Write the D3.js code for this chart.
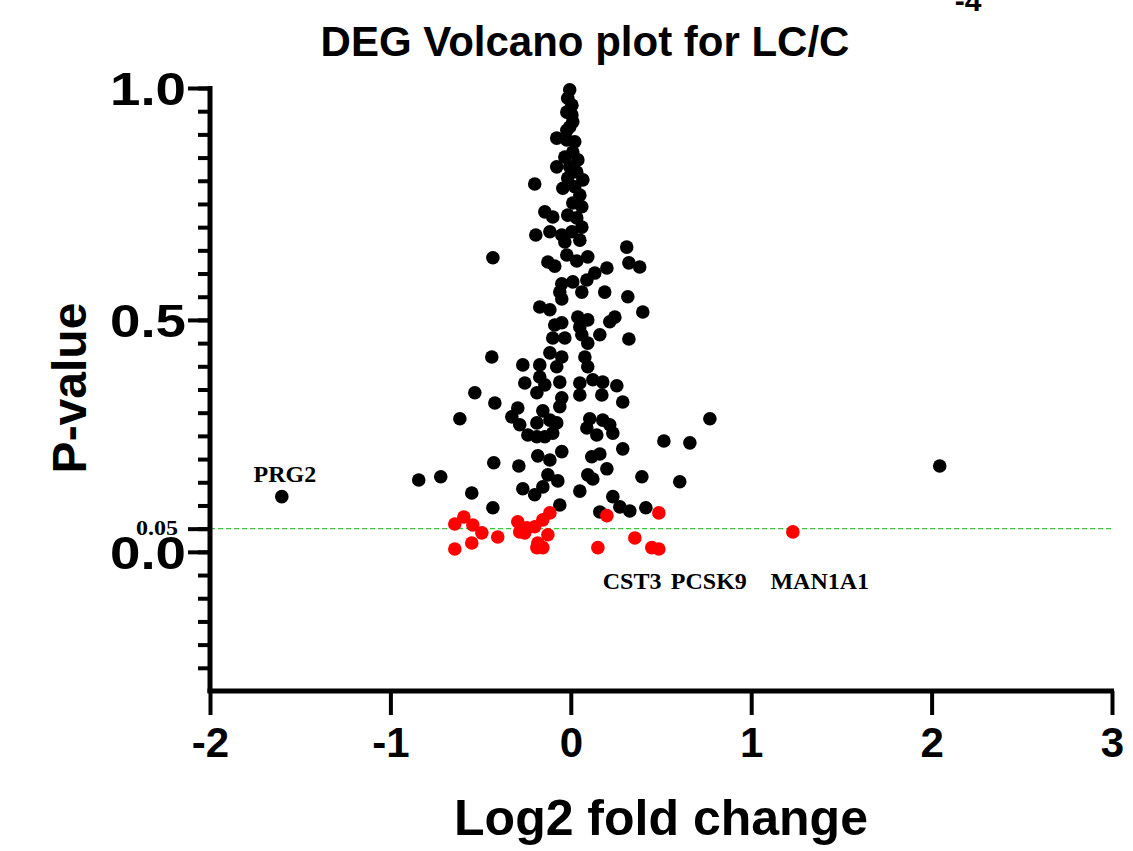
<!DOCTYPE html>
<html>
<head>
<meta charset="utf-8">
<script src="https://cdn.jsdelivr.net/npm/d3@7"></script>
<style>
  body { margin: 0; background: #fff; }
  svg { display: block; }
</style>
</head>
<body>
<svg id="chart" width="1133" height="851"></svg>
<script>
// black = not significant, red = p < 0.05 (log2FC, p)
const nsPoints = [
  [-0.006,0.996],[-0.017,0.978],[0.006,0.963],[-0.022,0.948],[0.006,0.942],[0.011,0.927],
  [-0.006,0.916],[-0.022,0.909],[-0.078,0.892],[0.022,0.884],[-0.022,0.888],[-0.033,0.851],
  [0.011,0.862],[0.039,0.845],[-0.078,0.830],[-0.006,0.830],[0.033,0.819],[0.067,0.802],
  [-0.017,0.806],[-0.044,0.784],[-0.200,0.793],[0.022,0.787],[0.050,0.769],[0.011,0.752],
  [0.061,0.744],[-0.144,0.733],[-0.100,0.722],[-0.017,0.726],[0.033,0.720],[0.061,0.700],
  [-0.116,0.690],[-0.194,0.683],[-0.050,0.683],[0.006,0.690],[0.050,0.672],[-0.033,0.668],
  [-0.432,0.634],[-0.127,0.625],[-0.089,0.616],[-0.022,0.640],[0.033,0.627],[0.094,0.636],
  [0.310,0.657],[0.322,0.623],[0.382,0.614],[0.200,0.612],[0.133,0.601],[0.089,0.586],
  [0.011,0.582],[-0.050,0.578],[-0.061,0.560],[-0.050,0.545],[0.061,0.560],[0.188,0.560],
  [0.316,0.550],[0.399,0.517],[-0.172,0.528],[-0.116,0.522],[0.039,0.506],[0.094,0.500],
  [0.050,0.485],[-0.089,0.489],[-0.050,0.494],[0.244,0.506],[0.216,0.496],[-0.100,0.461],
  [-0.033,0.461],[0.061,0.468],[0.094,0.450],[0.161,0.468],[0.322,0.459],[-0.438,0.420],
  [-0.266,0.403],[-0.116,0.429],[-0.050,0.420],[0.078,0.420],[0.094,0.399],[-0.172,0.403],
  [-0.078,0.399],[-0.255,0.364],[-0.172,0.377],[-0.144,0.360],[-0.061,0.366],[0.050,0.364],
  [0.122,0.371],[0.177,0.366],[0.255,0.358],[-0.532,0.343],[-0.421,0.321],[-0.188,0.343],
  [-0.050,0.332],[0.050,0.338],[0.172,0.338],[0.288,0.323],[-0.294,0.310],[-0.155,0.304],
  [-0.061,0.313],[-0.615,0.287],[0.771,0.287],[0.105,0.287],[0.177,0.284],[-0.327,0.291],
  [-0.283,0.274],[-0.188,0.278],[-0.116,0.284],[-0.078,0.278],[-0.238,0.252],[-0.188,0.248],
  [-0.144,0.248],[-0.100,0.256],[0.089,0.267],[0.216,0.274],[0.233,0.256],[0.144,0.252],
  [0.516,0.239],[0.660,0.235],[-0.183,0.207],[-0.116,0.198],[-0.050,0.216],[0.116,0.205],
  [0.161,0.211],[0.288,0.222],[0.200,0.179],[-0.427,0.192],[-0.288,0.185],[-0.843,0.155],
  [-0.721,0.162],[-0.549,0.127],[-0.266,0.136],[-0.200,0.123],[-0.155,0.140],[-0.127,0.166],
  [-0.072,0.153],[0.094,0.166],[0.122,0.157],[0.050,0.131],[0.394,0.162],[0.604,0.151],
  [-0.432,0.095],[-0.061,0.101],[0.233,0.119],[0.272,0.097],[0.327,0.088],[0.416,0.095],
  [0.161,0.086],[2.045,0.185],[-1.602,0.119]
];
const sigPoints = [
  [-0.643,0.060],[-0.593,0.075],[-0.543,0.058],[-0.493,0.041],[-0.405,0.032],[-0.643,0.006],
  [-0.549,0.019],[-0.294,0.065],[-0.283,0.043],[-0.244,0.052],[-0.200,0.054],[-0.155,0.069],
  [-0.116,0.084],[-0.127,0.037],[-0.183,0.019],[-0.188,0.009],[-0.155,0.009],[-0.255,0.041],
  [0.200,0.078],[0.150,0.009],[0.355,0.030],[0.449,0.009],[0.488,0.006],[0.488,0.084],
  [1.231,0.043]
];
// gene names and where their label sits (data units)
const geneLabels = [
  { name: "PRG2",   x: -1.585, y: 0.150 },
  { name: "CST3",   x: 0.340,  y: -0.080 },
  { name: "PCSK9",  x: 0.765,  y: -0.080 },
  { name: "MAN1A1", x: 1.380,  y: -0.080 }
];
const xTicks = [-2, -1, 0, 1, 2, 3];
const yMajor = [0, 0.5, 1.0];
const yMinor = d3.range(-0.25, 1.0001, 0.05);
const pCutoff = 0.05;

const svg = d3.select("#chart");

const x = d3.scaleLinear().domain([-2, 3]).range([210, 1112]);
const y = d3.scaleLinear().domain([-0.3, 1.0]).range([691, 88]);

// title + the cut off bit above it
svg.append("text")
  .attr("x", 585).attr("y", 56)
  .attr("text-anchor", "middle")
  .style("font", "bold 42px 'Liberation Sans', Arial, sans-serif")
  .text("DEG Volcano plot for LC/C");
svg.append("text")
  .attr("x", 968).attr("y", 11)
  .attr("text-anchor", "middle")
  .style("font", "bold 30px 'Liberation Sans', Arial, sans-serif")
  .text("-4");

// cutoff line
svg.append("line")
  .attr("x1", x(-2)).attr("x2", x(3))
  .attr("y1", y(pCutoff)).attr("y2", y(pCutoff))
  .attr("stroke", "#33cc33")
  .attr("stroke-width", 1.3)
  .attr("stroke-dasharray", "5,3");

// points
svg.selectAll(".ns")
  .data(nsPoints)
  .enter()
  .append("circle")
  .attr("cx", d => x(d[0]))
  .attr("cy", d => y(d[1]))
  .attr("r", 6.8)
  .style("fill", "#000");

svg.selectAll(".sig")
  .data(sigPoints)
  .enter()
  .append("circle")
  .attr("cx", d => x(d[0]))
  .attr("cy", d => y(d[1]))
  .attr("r", 6.8)
  .style("fill", "#ff0000");

// y axis: minor ticks first, then majors with labels
const yMinorAxis = d3.axisLeft(y).tickValues(yMinor).tickSize(12).tickSizeOuter(0).tickFormat("");
const gyMinor = svg.append("g").attr("transform", "translate(210,0)").call(yMinorAxis);
gyMinor.select(".domain").remove();
gyMinor.selectAll("line").attr("stroke", "#000").attr("stroke-width", 4);

const yAxis = d3.axisLeft(y).tickValues(yMajor).tickSize(22).tickSizeOuter(0)
  .tickPadding(2).tickFormat(d3.format(".1f"));
const gy = svg.append("g").attr("transform", "translate(210,0)").call(yAxis);
gy.select(".domain").attr("stroke", "#000").attr("stroke-width", 5)
  .attr("d", `M0,${y(1.0) - 2}V${y(-0.3) + 2}`);
gy.selectAll("line").attr("stroke", "#000").attr("stroke-width", 4);
gy.selectAll("text")
  .style("font", "bold 46px 'Liberation Sans', Arial, sans-serif")
  .attr("fill", "#000")
  .attr("textLength", 76)
  .attr("lengthAdjust", "spacingAndGlyphs")
  .attr("dy", "0.36em");

// the 0.05 tick
const gCut = svg.append("g").attr("transform", "translate(210,0)")
  .call(d3.axisLeft(y).tickValues([pCutoff]).tickSize(22).tickSizeOuter(0).tickPadding(10).tickFormat(d3.format(".2f")));
gCut.select(".domain").remove();
gCut.selectAll("line").attr("stroke", "#000").attr("stroke-width", 4);
gCut.selectAll("text")
  .style("font", "bold 21px 'Liberation Serif', 'Times New Roman', serif")
  .attr("fill", "#000")
  .attr("textLength", 42)
  .attr("lengthAdjust", "spacingAndGlyphs")
  .attr("dy", "0.3em");

// x axis
const xAxis = d3.axisBottom(x).tickValues(xTicks).tickSize(24).tickSizeOuter(0).tickPadding(12)
  .tickFormat(d => String(d));
const gx = svg.append("g").attr("transform", `translate(0,${y(-0.3)})`).call(xAxis);
gx.select(".domain").attr("stroke", "#000").attr("stroke-width", 5)
  .attr("d", `M${x(-2) - 2.5},0H${x(3) + 2}`);
gx.selectAll("line").attr("stroke", "#000").attr("stroke-width", 4);
gx.selectAll("text")
  .style("font", "bold 42px 'Liberation Sans', Arial, sans-serif")
  .attr("fill", "#000");

// axis titles
svg.append("text")
  .attr("transform", "translate(86,388) rotate(-90)")
  .attr("text-anchor", "middle")
  .style("font", "bold 48px 'Liberation Sans', Arial, sans-serif")
  .text("P-value");
svg.append("text")
  .attr("x", 661).attr("y", 835)
  .attr("text-anchor", "middle")
  .style("font", "bold 50px 'Liberation Sans', Arial, sans-serif")
  .text("Log2 fold change");

// gene labels
svg.selectAll(".gene")
  .data(geneLabels)
  .enter()
  .append("text")
  .attr("x", d => x(d.x))
  .attr("y", d => y(d.y))
  .attr("text-anchor", "middle")
  .style("font", "bold 24px 'Liberation Serif', 'Times New Roman', serif")
  .text(d => d.name);
</script>
</body>
</html>
